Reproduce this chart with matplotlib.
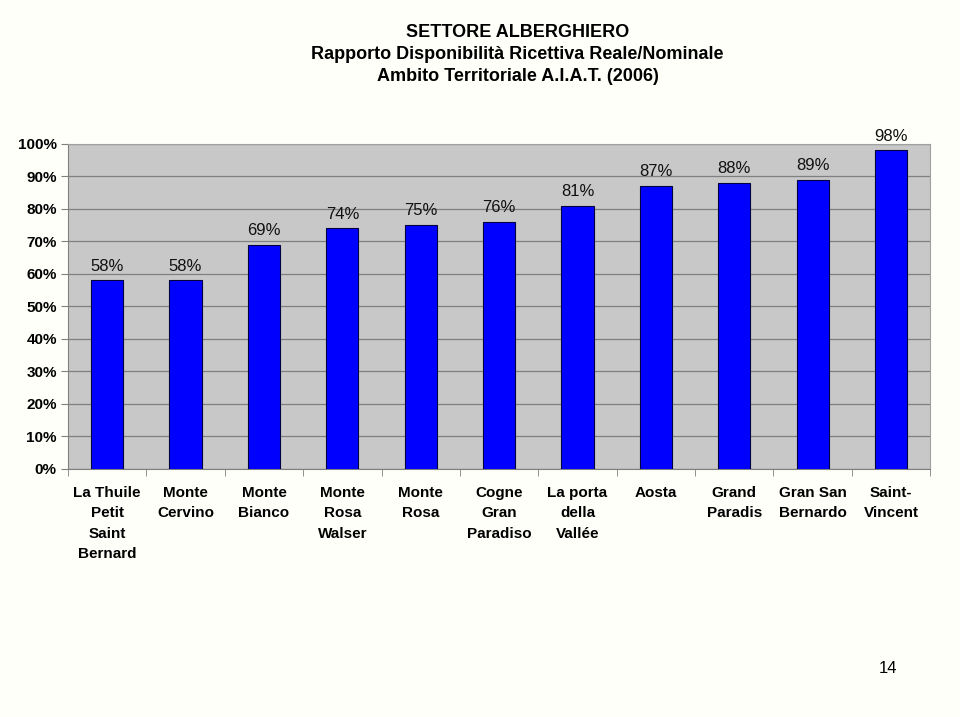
import matplotlib
matplotlib.use("Agg")
import matplotlib.pyplot as plt
import numpy as np

# data
categories = ["La Thuile\nPetit\nSaint\nBernard", "Monte\nCervino", "Monte\nBianco",
              "Monte\nRosa\nWalser", "Monte\nRosa", "Cogne\nGran\nParadiso",
              "La porta\ndella\nVallée", "Aosta", "Grand\nParadis",
              "Gran San\nBernardo", "Saint-\nVincent"]
values = [58, 58, 69, 74, 75, 76, 81, 87, 88, 89, 98]
yticks = [0, 10, 20, 30, 40, 50, 60, 70, 80, 90, 100]

plt.rcParams['font.family'] = ['Liberation Sans', 'DejaVu Sans']

fig = plt.figure(figsize=(9.6, 7.17), dpi=100, facecolor='#fffffa')
ax = fig.add_axes([0.0708, 0.3459, 0.8982, 0.4533])
ax.set_facecolor('#c8c8c8')

x = np.arange(len(categories))
ax.bar(x, values, width=0.41, color='#0000ff', edgecolor='#000040', linewidth=0.8, zorder=3)

for xi, v in zip(x, values):
    ax.annotate(f"{v}%", (xi, v), xytext=(0, 5), textcoords='offset points',
                ha='center', va='bottom', fontsize=12, color='#111111')

ax.set_xlim(-0.5, len(categories) - 0.5)
ax.set_ylim(0, 100)
ax.set_yticks(yticks)
ax.set_yticklabels([f"{t}%" for t in yticks], fontsize=11, fontweight='bold')
ax.yaxis.grid(True, color='#808080', linewidth=0.9, zorder=1)

ax.set_xticks(x)
ax.set_xticklabels(categories, fontsize=11, fontweight='bold', linespacing=1.6)
ax.tick_params(axis='x', length=0, pad=12)
ax.set_xticks(np.arange(len(categories) + 1) - 0.5, minor=True)
ax.tick_params(axis='x', which='minor', length=5, color='#808080')
ax.tick_params(axis='y', length=5, color='#808080', pad=3)

for s in ['top', 'right']:
    ax.spines[s].set_color('#a0a0a0')
for s in ['left', 'bottom']:
    ax.spines[s].set_color('#808080')

fig.text(0.539, 0.967, "SETTORE ALBERGHIERO\nRapporto Disponibilità Ricettiva Reale/Nominale\nAmbito Territoriale A.I.A.T. (2006)",
         ha='center', va='top', fontsize=13, fontweight='bold', linespacing=1.38)

fig.text(0.925, 0.068, "14", ha='center', va='center', fontsize=12)

fig.savefig("out.png", dpi=100, facecolor=fig.get_facecolor())
